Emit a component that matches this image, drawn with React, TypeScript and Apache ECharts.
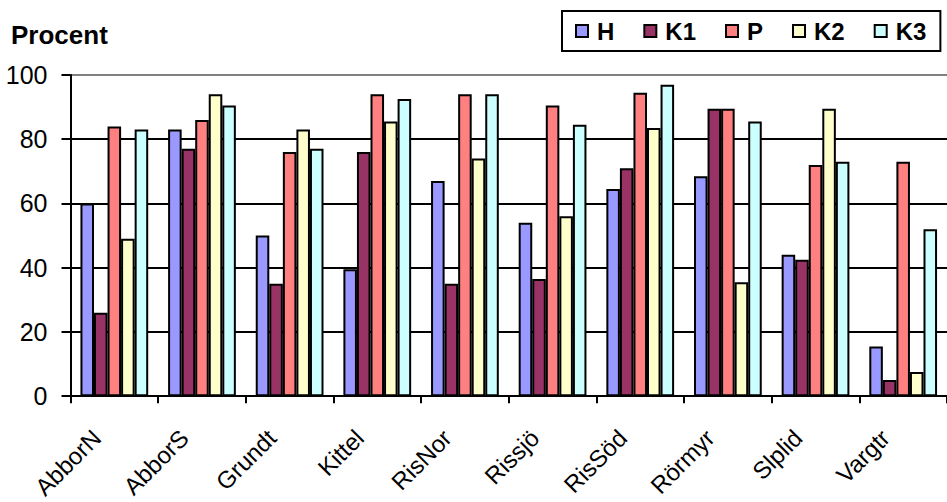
import React, { useEffect, useRef } from "react";
import * as echarts from "echarts";

// Lake sites along the category axis
const categories = [
  "AbborN",
  "AbborS",
  "Grundt",
  "Kittel",
  "RisNor",
  "Rissjö",
  "RisSöd",
  "Rörmyr",
  "Slplid",
  "Vargtr",
];

// Percentages per group
const hValues = [60, 83, 50, 39.5, 67, 54, 64.5, 68.5, 44, 15.5];
const k1Values = [26, 77, 35, 76, 35, 36.5, 71, 89.5, 42.5, 5];
const pValues = [84, 86, 76, 94, 94, 90.5, 94.5, 89.5, 72, 73];
const k2Values = [49, 94, 83, 85.5, 74, 56, 83.5, 35.5, 89.5, 7.5];
const k3Values = [83, 90.5, 77, 92.5, 94, 84.5, 97, 85.5, 73, 52];

const seriesNames = ["H", "K1", "P", "K2", "K3"];
const seriesColors = ["#9999FF", "#993366", "#FF8080", "#FFFFCC", "#CCFFFF"];
const seriesValues = [hValues, k1Values, pValues, k2Values, k3Values];

const yTicks = { min: 0, max: 100, interval: 20 };

const FONT = 'Arial, "Liberation Sans", sans-serif';

export default function App() {
  const ref = useRef<HTMLDivElement>(null);

  useEffect(() => {
    if (!ref.current) return;
    const chart = echarts.init(ref.current, undefined, { renderer: "svg" });

    chart.setOption({
      animation: false,
      backgroundColor: "#ffffff",
      title: {
        text: "Procent",
        left: 11,
        top: 22,
        padding: 0,
        textStyle: {
          fontFamily: FONT,
          fontSize: 26,
          fontWeight: "bold",
          color: "#000",
        },
      },
      legend: {
        data: seriesNames,
        left: 562,
        top: 11,
        padding: [8, 14, 8, 13],
        itemWidth: 12,
        itemHeight: 12,
        itemGap: 29,
        icon: "rect",
        borderColor: "#000",
        borderWidth: 2,
        textStyle: {
          fontFamily: FONT,
          fontSize: 24,
          fontWeight: "bold",
          color: "#000",
          padding: [0, 0, 0, 4],
        },
      },
      grid: {
        left: 70.5,
        top: 75,
        width: 885,
        height: 324.5,
        containLabel: false,
      },
      xAxis: {
        type: "category",
        data: categories,
        boundaryGap: true,
        axisLine: { show: true, lineStyle: { color: "#000", width: 2 } },
        axisTick: {
          show: true,
          interval: 0,
          length: 7,
          lineStyle: { color: "#000", width: 2 },
        },
        axisLabel: {
          interval: 0,
          rotate: 45,
          margin: 20,
          padding: [0, 25, 0, 0],
          fontFamily: FONT,
          fontSize: 24,
          color: "#000",
        },
        splitLine: { show: false },
      },
      yAxis: {
        type: "value",
        min: yTicks.min,
        max: yTicks.max,
        interval: yTicks.interval,
        axisLine: { show: true, lineStyle: { color: "#000", width: 2 } },
        axisTick: {
          show: true,
          length: 9,
          lineStyle: { color: "#000", width: 2 },
        },
        axisLabel: {
          margin: 23,
          fontFamily: FONT,
          fontSize: 25,
          color: "#000",
        },
        splitLine: {
          show: true,
          lineStyle: {
            color: ["#000", "#000", "#000", "#000", "#000", "#808080"],
            width: 2,
          },
        },
      },
      series: seriesNames.map((name, i) => ({
        name,
        type: "bar",
        data: seriesValues[i],
        barGap: "0%",
        barCategoryGap: "22.7%",
        itemStyle: {
          color: seriesColors[i],
          borderColor: "#000",
          borderWidth: 2,
        },
      })),
    });

    return () => chart.dispose();
  }, []);

  return (
    <div
      ref={ref}
      style={{ position: "fixed", left: 0, top: 0, width: 947, height: 502 }}
    />
  );
}
